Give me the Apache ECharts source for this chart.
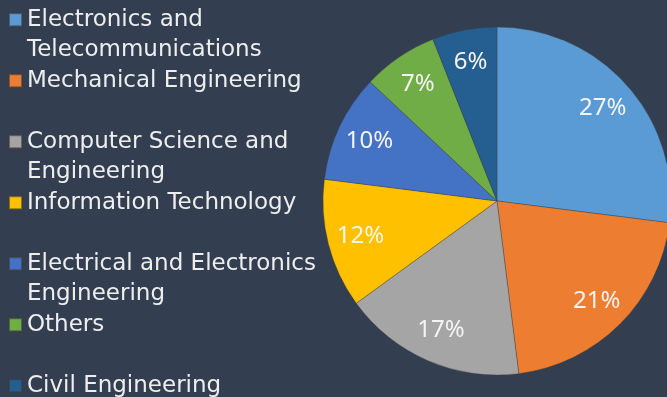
<!DOCTYPE html>
<html>
<head>
<meta charset="utf-8">
<style>
  html, body { margin: 0; padding: 0; background: #333f50; }
  #chart { width: 667px; height: 397px; }
</style>
<script src="https://cdn.jsdelivr.net/npm/echarts@6/dist/echarts.min.js"></script>
</head>
<body>
<div id="chart"></div>
<script>
const categories = [
  'Electronics and Telecommunications',
  'Mechanical Engineering',
  'Computer Science and Engineering',
  'Information Technology',
  'Electrical and Electronics Engineering',
  'Others',
  'Civil Engineering'
];
const legendLabels = [
  'Electronics and\nTelecommunications',
  'Mechanical Engineering\n ',
  'Computer Science and\nEngineering',
  'Information Technology\n ',
  'Electrical and Electronics\nEngineering',
  'Others\n ',
  'Civil Engineering\n '
];
const values = [27, 21, 17, 12, 10, 7, 6];
const palette = ['#5b9bd5', '#ed7d31', '#a5a5a5', '#ffc000', '#4472c4', '#70ad47', '#255e91'];

const pieData = categories.map((name, i) => ({ name: name, value: values[i] }));

const chart = echarts.init(document.getElementById('chart'), null, { renderer: 'canvas' });
chart.setOption({
  backgroundColor: '#333f50',
  animation: false,
  color: palette,
  legend: {
    orient: 'vertical',
    left: 8,
    top: -26,
    height: 520,
    padding: 0,
    itemGap: -30.5,
    itemWidth: 13,
    itemHeight: 13,
    icon: 'rect',
    selectedMode: false,
    data: categories,
    formatter: function (name) {
      return ' \n' + legendLabels[categories.indexOf(name)];
    },
    textStyle: {
      color: '#eeeeee',
      fontFamily: 'DejaVu Sans',
      fontSize: 23,
      lineHeight: 30.5
    }
  },
  series: [
    {
      type: 'pie',
      center: [497, 201],
      radius: [0, 174],
      startAngle: 90,
      clockwise: true,
      silent: true,
      data: pieData,
      label: { show: false },
      labelLine: { show: false },
      itemStyle: { borderWidth: 0.6, borderColor: 'rgba(60,60,60,0.6)' }
    },
    {
      type: 'pie',
      center: [497, 201],
      radius: [104, 172],
      startAngle: 90,
      clockwise: true,
      silent: true,
      data: pieData,
      itemStyle: { color: 'rgba(0,0,0,0)', borderWidth: 0 },
      label: {
        show: true,
        position: 'inside',
        formatter: '{c}%',
        color: '#f4f4f4',
        fontFamily: 'Noto Sans',
        fontSize: 24
      },
      labelLine: { show: false }
    }
  ]
});
</script>
</body>
</html>
